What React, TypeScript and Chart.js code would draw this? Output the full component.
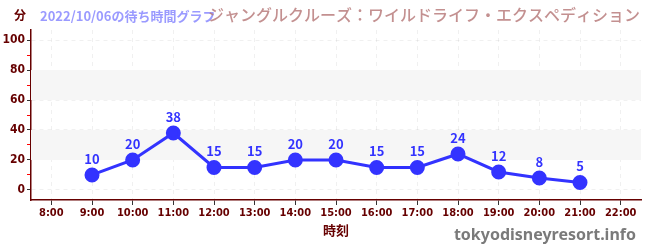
import React, { useEffect, useRef } from "react";
import { Chart, registerables } from "chart.js";

Chart.register(...registerables);

const hours = ["8:00", "9:00", "10:00", "11:00", "12:00", "13:00", "14:00", "15:00", "16:00", "17:00", "18:00", "19:00", "20:00", "21:00", "22:00"];
const waits: (number | null)[] = [null, 10, 20, 38, 15, 15, 20, 20, 15, 15, 24, 12, 8, 5, null];
const yLabels = ["0", "20", "40", "60", "80", "100"];
const bands: [number, number][] = [[20, 40], [60, 80]];

const unitText = "分";
const dateText = "2022/10/06の待ち時間グラフ";
const titleText = "ジャングルクルーズ：ワイルドライフ・エクスペディション";
const axisTitle = "時刻";
const watermark = "tokyodisneyresort.info";

const DARK = "#660000";
const BLUE = "#3333ff";
const narrow = "'DejaVu Sans Condensed', 'Liberation Sans Narrow', 'Noto Sans', sans-serif";
const jp = "'Noto Sans CJK JP', 'Noto Sans', sans-serif";

const decor = {
  id: "decor",
  beforeDatasetsDraw(chart: any) {
    const { ctx, chartArea, scales } = chart;
    const y = scales.y;
    ctx.save();
    ctx.fillStyle = "#f6f6f6";
    for (const [a, b] of bands) {
      const top = y.getPixelForValue(b);
      const bot = y.getPixelForValue(a);
      ctx.fillRect(chartArea.left, top, chartArea.right - chartArea.left, bot - top);
    }
    ctx.restore();
  },
  afterDatasetsDraw(chart: any) {
    const { ctx } = chart;
    const meta = chart.getDatasetMeta(0);
    ctx.save();
    ctx.fillStyle = BLUE;
    ctx.font = `bold 13px ${jp}`;
    ctx.textAlign = "center";
    ctx.textBaseline = "alphabetic";
    meta.data.forEach((pt: any, i: number) => {
      const v = waits[i];
      if (v == null) return;
      ctx.fillText(String(v), pt.x, pt.y - 11);
    });
    ctx.restore();
  },
  afterDraw(chart: any) {
    const { ctx } = chart;
    ctx.save();
    ctx.textBaseline = "alphabetic";
    ctx.textAlign = "left";
    ctx.fillStyle = DARK;
    ctx.font = `bold 12px ${jp}`;
    ctx.fillText(unitText, 14, 20);
    ctx.fillStyle = "rgba(120,120,255,0.75)";
    ctx.font = `bold 13px ${jp}`;
    ctx.fillText(dateText, 40, 21);
    ctx.fillStyle = "rgba(185,125,125,0.85)";
    ctx.font = `500 16px ${jp}`;
    ctx.textAlign = "right";
    ctx.fillText(titleText, 640, 21);
    ctx.fillStyle = "#7a7a7a";
    ctx.font = `bold 16px 'Noto Sans', sans-serif`;
    ctx.fillText(watermark, 636, 240);
    ctx.restore();
  },
};

export default function App() {
  const ref = useRef<HTMLCanvasElement | null>(null);
  useEffect(() => {
    if (!ref.current) return;
    const chart = new Chart(ref.current, {
      type: "line",
      data: {
        labels: hours,
        datasets: [
          {
            data: waits,
            borderColor: BLUE,
            backgroundColor: BLUE,
            borderWidth: 3,
            pointRadius: 6,
            pointHoverRadius: 6,
            spanGaps: false,
          },
        ],
      },
      options: {
        animation: false,
        responsive: true,
        maintainAspectRatio: false,
        layout: { padding: { left: 0, right: 9, top: 30, bottom: 0 } },
        plugins: { legend: { display: false }, tooltip: { enabled: false } },
        scales: {
          x: {
            offset: true,
            afterFit: (s: any) => {
              s.height = 50;
            },
            grid: {
              color: "rgba(0,0,0,0.06)",
              tickColor: "#333333",
              tickLength: 5,
              offset: false,
            },
            border: { color: DARK, width: 1.5, dash: [4, 4] },
            ticks: {
              color: DARK,
              font: { family: narrow, size: 11, weight: "bold" },
              padding: 2,
              maxRotation: 0,
              autoSkip: false,
            },
            title: {
              display: true,
              text: axisTitle,
              color: DARK,
              font: { family: jp, size: 13, weight: "bold" },
              padding: { top: 4, bottom: 12 },
            },
          },
          y: {
            min: -6.7,
            max: 106.7,
            afterFit: (s: any) => {
              s.width = 31;
            },
            afterBuildTicks: (s: any) => {
              const t = [];
              for (let v = 0; v <= 100; v += 10) t.push({ value: v });
              s.ticks = t;
            },
            grid: {
              color: (c: any) => (c.tick && c.tick.value % 20 === 0 ? "rgba(0,0,0,0.06)" : "rgba(0,0,0,0)"),
              tickColor: (c: any) => (c.tick && c.tick.value % 20 === 0 ? "#333333" : "#ff0000"),
              tickLength: 4,
            },
            border: { color: DARK, width: 1.5, dash: [4, 4] },
            ticks: {
              color: DARK,
              font: { family: narrow, size: 12, weight: "bold" },
              padding: 2,
              autoSkip: false,
              callback: (v: any) => {
                const s = String(Math.round(Number(v)));
                return yLabels.includes(s) ? s : "";
              },
            },
          },
        },
      },
      plugins: [decor],
    });
    return () => chart.destroy();
  }, []);
  return (
    <div style={{ position: "fixed", left: 0, top: 0, width: 650, height: 250, background: "#fff" }}>
      <canvas ref={ref} />
    </div>
  );
}
